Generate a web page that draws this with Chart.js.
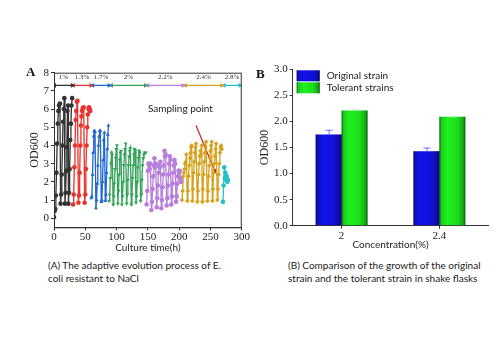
<!DOCTYPE html>
<html>
<head>
<meta charset="utf-8">
<script src="https://cdn.jsdelivr.net/npm/chart.js@4/dist/chart.umd.min.js"></script>
<style>
  body { margin: 0; background: #fff; }
  #wrap { position: relative; width: 500px; height: 350px; overflow: hidden; }
  canvas, .txt { position: absolute; }
  .panel { font: bold 13px "Liberation Serif", serif; color: #111; line-height: 1; }
  .cap { font: 10px Lato, sans-serif; color: #1a1a1a; line-height: 13.3px; white-space: nowrap; }
</style>
</head>
<body>
<div id="wrap">
  <canvas id="chartA" width="222" height="194" style="left:28px;top:60px"></canvas>
  <canvas id="chartB" width="232" height="191" style="left:258px;top:60px"></canvas>
  <div class="txt panel" style="left:26px;top:65px">A</div>
  <div class="txt panel" style="left:256px;top:67px">B</div>
  <div class="txt cap" style="left:48px;top:259px">(A) The adaptive evolution process of E.<br>coli resistant to NaCl</div>
  <div class="txt cap" style="left:288px;top:259px">(B) Comparison of the growth of the original<br>strain and the tolerant strain in shake flasks</div>
</div>
<script>
// Panel A: adaptive evolution, OD600 over culture time for each NaCl stage
const blackT = [0,1,2,3,4,5,6,7,8,9.5, 10.5,11.5,12.5,13.5,14.5,15.5,16.5, 17.5,18.5,19.5,20.5,21.5,22.5, 23,24,25,26,27,28,29];
const blackOD = [0.05,0.4,0.5,1.25,2.5,4.1,5.2,5.9,6.2,6.3, 0.8,1.3,2.4,4.0,5.3,6.0,6.6, 0.8,1.4,2.6,3.9,5.9,6.2, 0.8,1.4,2.7,4.3,5.2,6.2,6.6];
const redT = [30.5,31.5,32.5,33.5,34.5,35.5,36.5,37.5, 39,40,41,42,43,44,45,46,47.5, 49,50,51,52,53,54,55,56,57,58];
const redOD = [0.75,1.3,2.8,4.0,5.4,5.9,6.4,6.45, 0.85,1.25,2.5,4.0,5.1,5.6,5.9,6.05,6.1, 0.85,1.3,2.7,4.0,5.0,5.7,6.0,6.1,6.0,5.9];
const blueT = [59.5,60.5,61.5,62.5,63.5,64.5,65.5, 67,68,69,70,71,72,73,74, 75.5,76.5,77.5,78.5,79.5,80.5, 82,83,84,85,86,87];
const blueOD = [1.1,1.2,2.4,3.6,4.5,4.8,4.75, 0.55,1.0,1.9,2.9,4.0,4.5,4.8,4.8, 0.9,1.0,2.0,3.2,4.3,4.7, 0.95,1.3,2.5,3.8,4.6,5.1];
const greenT = [88,89,90,91,92,93, 94.5,95.5,96.5,97.5,98.5,99.5,100.5, 102,103,104,105,106,107, 108.5,109.5,110.5,111.5,112.5,113.5,114.5, 116,117,118,119,120,121,122, 123.5,124.5,125.5,126.5,127.5,128.5,129.5, 131,132,133,134,135,136,137, 138.5,139.5,140.5,141.5,142.5,143.5,145,146.5];
const greenOD = [0.95,1.3,2.2,3.0,3.6,3.5, 0.75,1.2,1.9,2.7,3.3,3.8,4.0, 0.8,1.5,2.4,3.2,3.6,3.7, 0.75,1.2,2.0,2.9,3.5,3.8,4.1, 0.8,1.3,2.1,2.9,3.4,3.7,3.85, 0.75,1.3,2.2,2.9,3.5,3.8,3.75, 0.85,1.2,2.0,2.8,3.3,3.7,3.6, 0.95,1.3,2.1,2.9,3.3,3.5,3.6,3.6];
const purpleT = [148,149,150,151,152,153,154, 155.5,156.5,157.5,158.5,159.5,160.5,161.5,162.5, 164,165,166,167,168,169,170, 171.5,172.5,173.5,174.5,175.5,176.5,177.5,178.5, 180,181,182,183,184,185,186, 187.5,188.5,189.5,190.5,191.5,192.5,193.5, 195,196,197,198,199,200,201,202,203];
const purpleOD = [0.75,1.5,2.6,3.0,2.9,2.7,3.0, 0.45,0.9,1.6,2.3,2.9,3.3,2.8,3.0, 0.6,1.1,1.8,2.5,2.9,2.8,3.1, 0.55,1.0,1.7,2.4,2.9,3.7,3.4,3.5, 0.7,1.1,1.8,2.4,3.0,3.4,3.2, 0.75,1.2,1.9,2.5,2.9,3.2,3.0, 0.9,1.2,1.9,2.3,2.6,2.5,2.6,2.2,2.0];
const goldT = [204.5,205.5,206.5,207.5,208.5,209.5,210.5,211.5, 213,214,215,216,217,218,219,220, 221,222,223,224,225,226,227, 229,230,231,232,233,234,235,236, 237,238,239,240,241,242,243, 245,246,247,248,249,250,251,252, 253,254,255,256,257,258,259, 261,262,263,264,265,266,267,268];
const goldOD = [1.0,1.5,2.3,2.5,2.7,3.0,3.1,3.5, 0.95,1.5,2.3,2.9,3.3,3.6,3.9,4.0, 0.95,1.6,2.5,3.1,3.6,3.9,4.1, 0.9,1.5,2.4,3.0,3.4,3.7,3.5,4.0, 0.9,1.6,2.4,3.1,3.6,3.9,4.2, 0.95,1.5,2.3,2.9,3.3,3.7,4.0,4.2, 0.95,1.6,2.5,3.0,3.4,3.8,4.1, 1.0,1.6,2.4,3.0,3.6,3.9,4.0,3.8];
const cyanT = [270,271,272,273,274,275,276,277,278];
const cyanOD = [0.9,1.8,2.8,2.2,2.5,2.1,2.3,2.0,2.1];

// NaCl stages shown by the arrows along the top
const stageLabels = ['1%', '1.3%', '1.7%', '2%', '2.2%', '2.4%', '2.8%'];
const stageStart = [1, 31, 62, 92, 150, 210, 272];
const stageEnd = [29, 59, 88, 146, 206, 268, 297];
const stageLevel = 7.3;
const stageTextLevel = 7.75;

// sampling point annotation
const sampleT = [227, 257];
const sampleOD = [5.1, 2.6];
const sampleText = 'Sampling point';
const sampleTextAt = [202, 6.0];

const xTicksA = [0, 50, 100, 150, 200, 250, 300];
const yTicksA = [0, 1, 2, 3, 4, 5, 6, 7, 8];

// Panel B: shake flask comparison
const concLabels = ['2', '2.4'];
const originalOD = [1.75, 1.43];
const originalErr = [0.09, 0.07];
const tolerantOD = [2.21, 2.09];
const tolerantErr = [0.02, 0.005];
const yTicksB = [0, 0.5, 1.0, 1.5, 2.0, 2.5, 3.0];

const serif = '"Liberation Serif", "Times New Roman", serif';
const sans = 'Lato, sans-serif';
const ink = '#222';

function pts(t, v) { return t.map((x, i) => ({ x: x, y: v[i] })); }

function series(t, v, color, style, rot) {
  return {
    data: pts(t, v), borderColor: color, backgroundColor: color,
    borderWidth: 1.3, pointStyle: style, pointRadius: 2.3, pointRotation: rot || 0,
    pointBorderWidth: 0, tension: 0
  };
}

const stageColors = ['#333333', '#e8322e', '#1f66d6', '#33a35a', '#b77fdb', '#d6a11c', '#22c1cc'];

const datasetsA = [
  series(blackT, blackOD, stageColors[0], 'circle'),
  series(redT, redOD, stageColors[1], 'circle'),
  series(blueT, blueOD, stageColors[2], 'triangle'),
  series(greenT, greenOD, stageColors[3], 'triangle', 180),
  series(purpleT, purpleOD, stageColors[4], 'circle'),
  series(goldT, goldOD, stageColors[5], 'rectRot'),
  series(cyanT, cyanOD, stageColors[6], 'circle')
];

stageLabels.forEach((lab, i) => {
  datasetsA.push({
    data: [{ x: stageStart[i], y: stageLevel }, { x: stageEnd[i], y: stageLevel }],
    borderColor: stageColors[i], backgroundColor: stageColors[i], borderWidth: 1.2,
    pointStyle: 'triangle', pointRadius: 2.8, pointRotation: [270, 90], pointBorderWidth: 0
  });
});

datasetsA.push({
  data: pts(sampleT, sampleOD),
  borderColor: '#c8202a', backgroundColor: '#c8202a', borderWidth: 1.2,
  pointStyle: 'triangle', pointRadius: [0, 3], pointBorderWidth: 0,
  pointRotation: ctx => {
    const s = ctx.chart.scales;
    const dx = s.x.getPixelForValue(sampleT[1]) - s.x.getPixelForValue(sampleT[0]);
    const dy = s.y.getPixelForValue(sampleOD[1]) - s.y.getPixelForValue(sampleOD[0]);
    return Math.atan2(dx, -dy) * 180 / Math.PI;
  }
});

// box around the plot area plus the stage and sampling texts
const frameA = {
  id: 'frameA',
  afterDraw(chart) {
    const { ctx, chartArea: a, scales } = chart;
    ctx.save();
    ctx.strokeStyle = '#333';
    ctx.lineWidth = 1;
    ctx.strokeRect(a.left + 0.5, a.top + 0.5, a.right - a.left - 1, a.bottom - a.top);
    ctx.fillStyle = '#333';
    ctx.font = '7px ' + serif;
    ctx.textAlign = 'center';
    ctx.textBaseline = 'middle';
    stageLabels.forEach((lab, i) => {
      const x = scales.x.getPixelForValue((stageStart[i] + stageEnd[i]) / 2);
      ctx.fillText(lab, x, scales.y.getPixelForValue(stageTextLevel));
    });
    ctx.fillStyle = ink;
    ctx.font = '10px ' + sans;
    ctx.fillText(sampleText, scales.x.getPixelForValue(sampleTextAt[0]), scales.y.getPixelForValue(sampleTextAt[1]));
    ctx.restore();
  }
};

function axisStyle(size, pad, offset) {
  return {
    grid: { drawOnChartArea: false, drawTicks: true, tickLength: 3, color: '#333', offset: offset },
    border: { display: true, color: '#333', width: 1 },
    ticks: { color: ink, font: { family: serif, size: size }, padding: pad, maxRotation: 0 }
  };
}

new Chart(document.getElementById('chartA'), {
  type: 'line',
  data: { datasets: datasetsA },
  options: {
    responsive: false, animation: false, devicePixelRatio: 1,
    layout: { padding: { top: 12.7, right: 7.7, bottom: 0, left: 0 } },
    plugins: { legend: { display: false }, tooltip: { enabled: false } },
    scales: {
      x: Object.assign(axisStyle(11, 0, false), {
        type: 'linear', min: 0, max: 300,
        afterBuildTicks: s => { s.ticks = xTicksA.map(v => ({ value: v })); },
        afterFit: s => { s.height = 26.7; },
        title: { display: true, text: 'Culture time(h)', color: ink, font: { family: sans, size: 10 }, padding: 0 }
      }),
      y: Object.assign(axisStyle(11, 2, false), {
        min: -0.5, max: 8,
        afterBuildTicks: s => { s.ticks = yTicksA.map(v => ({ value: v })); },
        afterFit: s => { s.width = 26; },
        title: { display: true, text: 'OD600', color: ink, font: { family: serif, size: 12 }, padding: 0 }
      })
    }
  },
  plugins: [frameA]
});

// shading and error bars on top of the library's bars
function shade(ctx, left, top, w, h) {
  const g = ctx.createLinearGradient(left, 0, left + w, 0);
  g.addColorStop(0, 'rgba(0,0,0,0.6)');
  g.addColorStop(0.08, 'rgba(0,0,0,0.15)');
  g.addColorStop(0.3, 'rgba(0,0,0,0)');
  g.addColorStop(0.7, 'rgba(0,0,0,0.08)');
  g.addColorStop(0.92, 'rgba(0,0,0,0.3)');
  g.addColorStop(1, 'rgba(0,0,0,0.65)');
  ctx.fillStyle = g;
  ctx.fillRect(left, top, w, h);
}

const barDecor = {
  id: 'barDecor',
  afterDatasetsDraw(chart) {
    const { ctx, scales } = chart;
    ctx.save();
    chart.data.datasets.forEach((ds, di) => {
      chart.getDatasetMeta(di).data.forEach((bar, i) => {
        const p = bar.getProps(['x', 'y', 'base', 'width'], true);
        shade(ctx, p.x - p.width / 2, p.y, p.width, p.base - p.y);
        const top = scales.y.getPixelForValue(ds.data[i] + ds.errors[i]);
        ctx.strokeStyle = ds.errColor;
        ctx.lineWidth = 1;
        ctx.beginPath();
        ctx.moveTo(p.x + 0.5, p.y);
        ctx.lineTo(p.x + 0.5, top);
        ctx.moveTo(p.x - 3, top + 0.5);
        ctx.lineTo(p.x + 4, top + 0.5);
        ctx.stroke();
      });
    });
    ctx.restore();
  },
  afterDraw(chart) {
    const { ctx, chartArea: a } = chart;
    ctx.save();
    ctx.font = '10px ' + sans;
    ctx.textBaseline = 'middle';
    chart.data.datasets.forEach((ds, i) => {
      const bx = a.left + 4, by = a.top + 1 + i * 12;
      ctx.fillStyle = ds.backgroundColor;
      ctx.fillRect(bx, by, 23, 11);
      shade(ctx, bx, by, 23, 11);
      ctx.fillStyle = ink;
      ctx.fillText(ds.label, bx + 30, by + 5.5);
    });
    ctx.restore();
  }
};

new Chart(document.getElementById('chartB'), {
  type: 'bar',
  data: {
    labels: concLabels,
    datasets: [
      { label: 'Original strain', data: originalOD, errors: originalErr, errColor: '#7070ff', backgroundColor: '#1212e8', borderWidth: 0 },
      { label: 'Tolerant strains', data: tolerantOD, errors: tolerantErr, errColor: '#a0f0a0', backgroundColor: '#1ef01e', borderWidth: 0 }
    ]
  },
  options: {
    responsive: false, animation: false, devicePixelRatio: 1,
    categoryPercentage: 0.53, barPercentage: 1,
    layout: { padding: { top: 9.3, right: 1.7, bottom: 0, left: 0 } },
    plugins: { legend: { display: false }, tooltip: { enabled: false } },
    scales: {
      x: Object.assign(axisStyle(11, 1, false), {
        afterFit: s => { s.height = 25.3; },
        title: { display: true, text: 'Concentration(%)', color: ink, font: { family: sans, size: 10 }, padding: 0 }
      }),
      y: Object.assign(axisStyle(11, 2, false), {
        min: 0, max: 3,
        afterBuildTicks: s => { s.ticks = yTicksB.map(v => ({ value: v })); },
        afterFit: s => { s.width = 34.7; },
        title: { display: true, text: 'OD600', color: ink, font: { family: serif, size: 12 }, padding: 0 }
      })
    }
  },
  plugins: [barDecor]
});
// y labels with one decimal
Chart.getChart('chartB').options.scales.y.ticks.callback = v => v.toFixed(1);
Chart.getChart('chartB').update('none');
</script>
</body>
</html>
